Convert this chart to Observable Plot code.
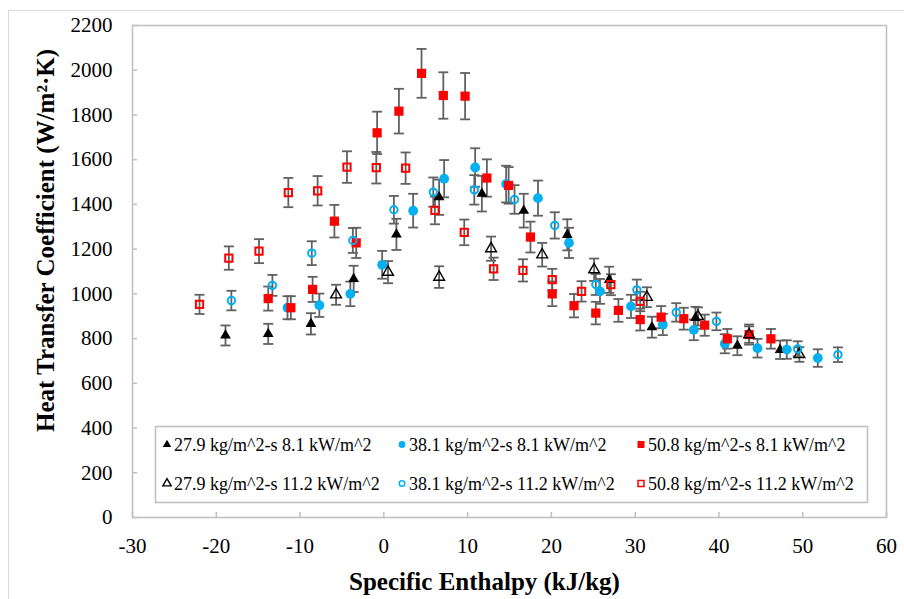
<!DOCTYPE html>
<html>
<head>
<meta charset="utf-8">
<script src="https://cdn.jsdelivr.net/npm/d3@7"></script>
<script src="https://cdn.jsdelivr.net/npm/@observablehq/plot@0.6"></script>
<style>
  html, body { margin: 0; padding: 0; background: #fff; overflow: hidden; }
  #page { position: relative; width: 904px; height: 599px; overflow: hidden; }
  #outer { position: absolute; left: 8px; top: 10px; width: 960px; height: 640px; border: 1px solid #d9d9d9; box-sizing: border-box; }
  #chart { position: absolute; left: 0; top: 0; }
  #legend { position: absolute; left: 0; top: 0; }
</style>
</head>
<body>
<div id="page">
  <div id="outer"></div>
  <div id="chart"></div>
  <svg id="legend" width="904" height="599"></svg>
</div>
<script>
// ---------- data ----------
const seriesNames = [
  "27.9 kg/m^2-s 8.1 kW/m^2",
  "38.1 kg/m^2-s 8.1 kW/m^2",
  "50.8 kg/m^2-s 8.1 kW/m^2",
  "27.9 kg/m^2-s 11.2 kW/m^2",
  "38.1 kg/m^2-s 11.2 kW/m^2",
  "50.8 kg/m^2-s 11.2 kW/m^2"
];
const xTicks = [-30, -20, -10, 0, 10, 20, 30, 40, 50, 60];
const yTicks = [0, 200, 400, 600, 800, 1000, 1200, 1400, 1600, 1800, 2000, 2200];

const A_x = [-18.9, -13.8, -8.7, -3.6, 1.5, 6.6, 11.7, 16.7, 21.9, 26.9, 32.0, 37.2, 42.2, 47.3];
const A_y = [814, 821, 866, 1067, 1266, 1432, 1448, 1372, 1264, 1063, 851, 893, 768, 750];

const B_x = [-11.5, -7.7, -4.0, -0.2, 3.5, 7.2, 10.9, 14.6, 18.4, 22.1, 25.8, 29.5, 33.3, 37.0, 40.7, 44.6, 48.1, 51.8];
const B_y = [938, 949, 1000, 1130, 1372, 1515, 1565, 1491, 1428, 1228, 1011, 944, 863, 839, 777, 757, 751, 713];

const C_x = [-13.8, -11.1, -8.5, -5.9, -3.3, -0.8, 1.8, 4.5, 7.1, 9.7, 12.3, 14.9, 17.5, 20.1, 22.7, 25.3, 28.0, 30.6, 33.1, 35.8, 38.3, 41.0, 43.6, 46.2];
const C_y = [979, 938, 1020, 1325, 1228, 1720, 1817, 1986, 1887, 1884, 1518, 1485, 1254, 1000, 947, 914, 926, 885, 896, 889, 860, 799, 818, 799];

const D_x = [-5.7, 0.5, 6.6, 12.8, 18.9, 25.1, 31.4, 37.5, 43.6, 49.6];
const D_y = [996, 1097, 1075, 1202, 1175, 1108, 985, 899, 818, 729];

const E_x = [-18.2, -13.3, -8.6, -3.7, 1.2, 5.9, 10.8, 15.6, 20.4, 25.3, 30.2, 34.9, 39.7, 49.4, 54.2];
const E_y = [970, 1038, 1182, 1239, 1376, 1455, 1465, 1422, 1306, 1042, 1018, 917, 877, 754, 728];

const F_x = [-22.0, -18.5, -14.9, -11.4, -7.9, -4.4, -0.9, 2.6, 6.1, 9.6, 13.1, 16.6, 20.1, 23.6, 27.1, 30.6];
const F_y = [953, 1160, 1191, 1453, 1461, 1567, 1564, 1562, 1373, 1275, 1112, 1105, 1064, 1011, 1041, 966];

// relative uncertainty of each series (percentage error bars)
const relErr = [0.055, 0.055, 0.055, 0.045, 0.045, 0.045];

// ---------- styles ----------
const BLUE = "#00B0F0", RED = "#FF0000", BLACK = "#000000";
const styles = [
  {symbol: "triangle", fill: BLACK, stroke: "none", r: 4.0, sw: 0},
  {symbol: "circle", fill: BLUE, stroke: "none", r: 4.9, sw: 0},
  {symbol: "square", fill: RED, stroke: "none", r: 5.2, sw: 0},
  {symbol: "triangle", fill: "none", stroke: BLACK, r: 4.0, sw: 1.4},
  {symbol: "circle", fill: "none", stroke: BLUE, r: 3.7, sw: 2},
  {symbol: "square", fill: "none", stroke: RED, r: 4.1, sw: 2}
];

const xs = [A_x, B_x, C_x, D_x, E_x, F_x];
const ys = [A_y, B_y, C_y, D_y, E_y, F_y];
const series = xs.map((xa, i) => xa.map((x, j) => ({
  s: i, x, y: ys[i][j], e: ys[i][j] * relErr[i]
})));
const all = series.flat();

const cap = {draw(ctx) { ctx.moveTo(-5, 0); ctx.lineTo(5, 0); }};
const ERR = "#616161";
const FONT = "'Liberation Serif', 'Times New Roman', serif";

const markMarks = series.map((d, i) => Plot.dot(d, {
  x: "x", y: "y", symbol: styles[i].symbol, r: styles[i].r,
  fill: styles[i].fill, stroke: styles[i].stroke, strokeWidth: styles[i].sw
}));

const chart = Plot.plot({
  width: 904, height: 599,
  marginLeft: 132, marginRight: 18, marginTop: 25, marginBottom: 82,
  style: {fontFamily: FONT, fontSize: "21px", color: "#000", background: "transparent", overflow: "visible"},
  x: {domain: [-30, 60]},
  y: {domain: [0, 2200]},
  marks: [
    Plot.frame({stroke: "#bfbfbf", strokeWidth: 1.5}),
    Plot.ruleX(xTicks, {x: d => d, stroke: "#bfbfbf", strokeWidth: 1.5, insetTop: 487}),
    Plot.ruleY(yTicks, {y: d => d, stroke: "#bfbfbf", strokeWidth: 1.5, insetRight: 749}),
    Plot.axisX({ticks: xTicks, tickSize: 0, tickPadding: 21, tickFormat: d => String(d), label: null, fontSize: 21}),
    Plot.axisY({ticks: yTicks, tickSize: 0, tickPadding: 20, tickFormat: d => String(d), label: null, fontSize: 21}),
    Plot.ruleX(all, {x: "x", y1: d => d.y - d.e, y2: d => d.y + d.e, stroke: ERR, strokeWidth: 1.8}),
    Plot.dot(all, {x: "x", y: d => d.y + d.e, symbol: cap, stroke: ERR, strokeWidth: 1.8, fill: "none"}),
    Plot.dot(all, {x: "x", y: d => d.y - d.e, symbol: cap, stroke: ERR, strokeWidth: 1.8, fill: "none"}),
    ...markMarks,
    Plot.text(["Heat Transfer Coefficient (W/m\u00B2\u00B7K)"], {text: d => d, frameAnchor: "left", dx: -87, dy: -31, rotate: -90, fontSize: 25, fontWeight: "bold", textAnchor: "middle", lineAnchor: "middle"}),
    Plot.text(["Specific Enthalpy (kJ/kg)"], {text: d => d, frameAnchor: "bottom", dx: -25, dy: 64, fontSize: 25, fontWeight: "bold", textAnchor: "middle", lineAnchor: "middle"})
  ]
});
document.getElementById("chart").appendChild(chart);

// ---------- legend ----------
const lg = d3.select("#legend");
lg.append("rect").attr("x", 155.5).attr("y", 426.5).attr("width", 712).attr("height", 76)
  .attr("fill", "#fff").attr("stroke", "#bfbfbf").attr("stroke-width", 1.5);
const colX = [167, 402, 641];
const rowY = [450.5, 489.5];
const symMap = {triangle: d3.symbolTriangle, circle: d3.symbolCircle, square: d3.symbolSquare};
const legSize = [30, 36, 49, 30, 24, 36];
seriesNames.forEach((name, i) => {
  const cx = colX[i % 3], by = rowY[Math.floor(i / 3)];
  const st = styles[i];
  lg.append("path")
    .attr("d", d3.symbol(symMap[st.symbol], legSize[i])())
    .attr("transform", `translate(${cx},${by - 6})`)
    .attr("fill", st.fill).attr("stroke", st.stroke === "none" ? "none" : st.stroke)
    .attr("stroke-width", st.sw ? Math.min(st.sw, 1.5) : 0);
  lg.append("text").attr("x", cx + 7).attr("y", by)
    .attr("font-family", FONT)
    .attr("font-size", 18).attr("fill", "#000").text(name);
});
</script>
</body>
</html>
